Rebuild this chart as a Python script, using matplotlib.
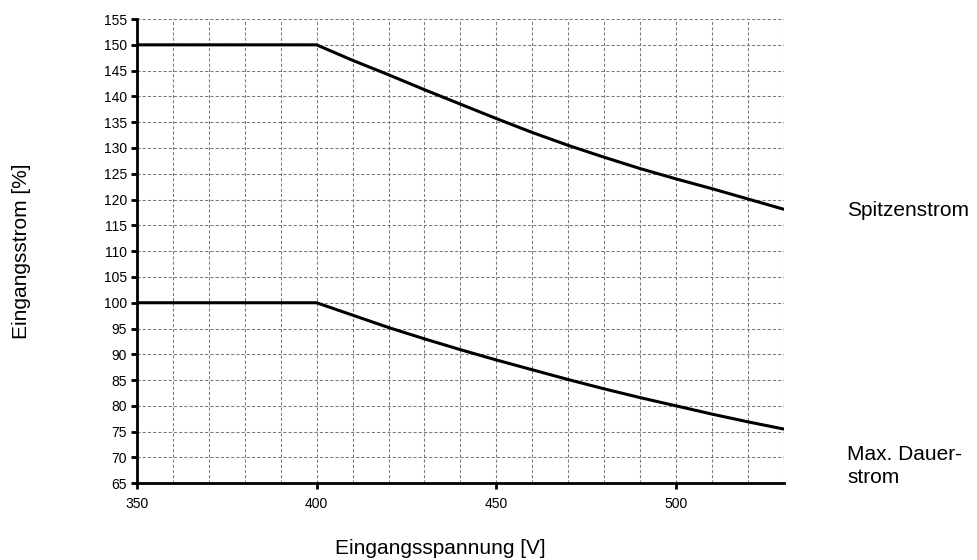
import numpy as np
import matplotlib.pyplot as plt
from matplotlib.ticker import MultipleLocator

plt.rcParams['font.family'] = ['Liberation Sans', 'DejaVu Sans']

# Werte
spannung = [400, 410, 420, 430, 440, 450, 460, 470, 480, 490, 500, 510, 520, 530]
spitzenstrom = [150.0, 147.0, 144.2, 141.3, 138.5, 135.7, 133.0, 130.5, 128.2, 126.0, 124.0, 122.1, 120.1, 118.1]
dauerstrom = [100.0, 97.6, 95.2, 93.0, 90.9, 88.9, 87.0, 85.1, 83.3, 81.6, 80.0, 78.4, 76.9, 75.5]

x_ticks = [350, 400, 450, 500]
y_ticks = list(range(65, 156, 5))

fig = plt.figure(figsize=(9.78, 5.6), dpi=100)
ax = fig.add_axes([0.1398, 0.137, 0.662, 0.829])

# waagrechter Teil ab 350 V
ax.plot([350] + spannung, [spitzenstrom[0]] + spitzenstrom, color='black', lw=2.2, solid_capstyle='butt')
ax.plot([350] + spannung, [dauerstrom[0]] + dauerstrom, color='black', lw=2.2, solid_capstyle='butt')

ax.set_xlim(350, 530)
ax.set_ylim(65, 155)
ax.set_xticks(x_ticks)
ax.xaxis.set_minor_locator(MultipleLocator(10))
ax.set_yticks(y_ticks)

ax.grid(True, which='both', color='#7a7a7a', linestyle=(0, (3, 2)), linewidth=0.75)
ax.set_axisbelow(True)

for s in ['top', 'right']:
    ax.spines[s].set_visible(False)
for s in ['left', 'bottom']:
    ax.spines[s].set_linewidth(2)

ax.tick_params(axis='both', which='major', direction='out', length=4, width=2, labelsize=10, pad=3)
ax.tick_params(axis='x', which='minor', length=0)
ax.tick_params(axis='x', pad=6)

fig.text(440 / 978, 1 - 549 / 560, 'Eingangsspannung [V]', fontsize=15, ha='center', va='center')
fig.text(22 / 978, 1 - 251 / 560, 'Eingangsstrom [%]', fontsize=15, ha='center', va='center', rotation=90)
fig.text(847 / 978, 1 - 211 / 560, 'Spitzenstrom', fontsize=15, ha='left', va='center')
fig.text(847 / 978, 1 - 466 / 560, 'Max. Dauer-\nstrom', fontsize=15, ha='left', va='center', linespacing=1.25)

fig.savefig('out.png', dpi=100)
